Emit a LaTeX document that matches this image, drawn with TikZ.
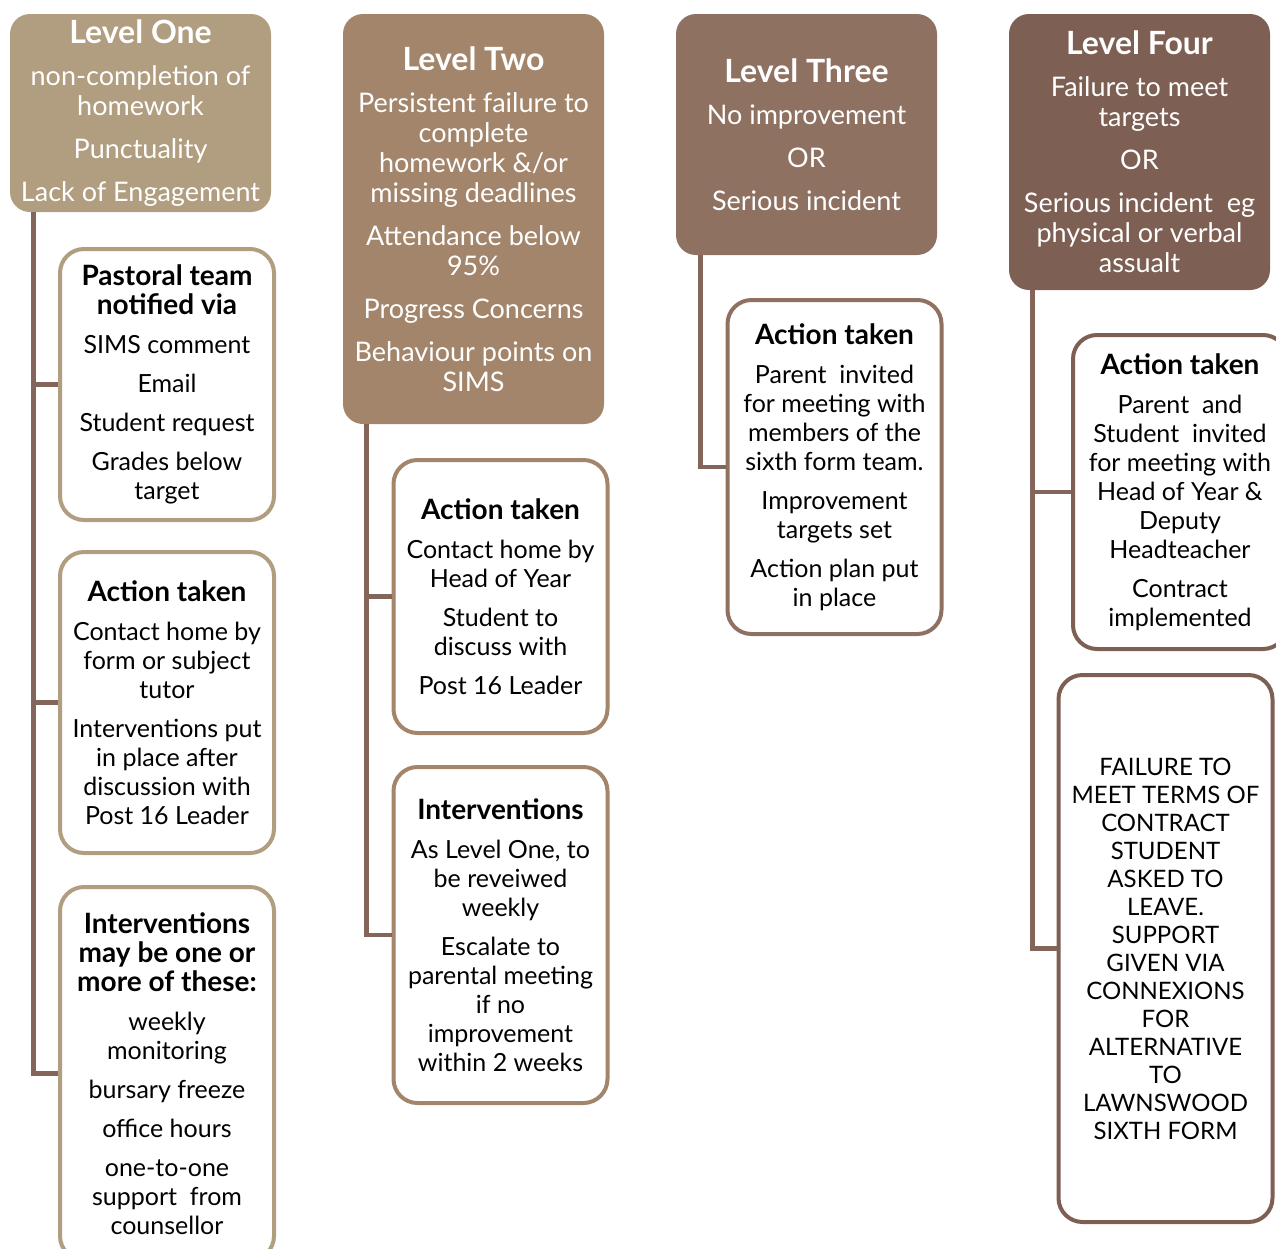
\documentclass[tikz,border=0pt]{standalone}
\usepackage{fontspec}
\setmainfont{Lato}

\definecolor{lvone}{HTML}{B19D7F}
\definecolor{lvtwo}{HTML}{A3856B}
\definecolor{lvthree}{HTML}{8F7161}
\definecolor{lvfour}{HTML}{7D5F53}
\definecolor{linkc}{HTML}{84655A}

\newcommand{\levelname}[1]{{\fontsize{16}{18}\selectfont\bfseries #1}}
\newcommand{\boxtitle}[1]{{\fontsize{14}{14.5}\selectfont\bfseries #1}}

\begin{document}
\begin{tikzpicture}[x=0.5pt,y=-0.5pt,
	head/.style={rounded corners=10pt, text=white, align=center, inner sep=2pt,
		minimum width=130.5pt, font=\fontsize{13.5}{15}\selectfont},
	item/.style={draw, line width=2pt, fill=white, rounded corners=12pt, align=center,
		inner sep=2pt, minimum width=107pt, font=\fontsize{12.5}{14.5}\selectfont},
	link/.style={draw=linkc, line width=2.4pt}]

	\useasboundingbox (0,0) rectangle (1276,1249);

	% the four levels
	\node[head, fill=lvone, minimum height=99pt] (hone) at (140.5,113)
		{\levelname{Level One}\\[6pt] non-completion of\\ homework\\[6.5pt] Punctuality\\[6.5pt] Lack of Engagement};
	\node[head, fill=lvtwo, minimum height=205pt] (htwo) at (473.5,219)
		{\levelname{Level Two}\\[6pt] Persistent failure to\\ complete\\ homework \&/or\\ missing deadlines\\[6.5pt]
		 Attendance below\\ 95\%\\[6.5pt] Progress Concerns\\[6.5pt] Behaviour points on\\ SIMS};
	\node[head, fill=lvthree, minimum height=120.5pt] (hthree) at (806.5,134.5)
		{\levelname{Level Three}\\[6pt] No improvement\\[6.5pt] OR\\[6.5pt] Serious incident};
	\node[head, fill=lvfour, minimum height=138pt] (hfour) at (1139.5,152)
		{\levelname{Level Four}\\[6pt] Failure to meet\\ targets\\[6.5pt] OR\\[6.5pt] Serious incident\ \ eg\\ physical or verbal\\ assualt};

	% level one
	\node[item, draw=lvone, minimum height=135.5pt] (pone) at (167,384.5)
		{\boxtitle{Pastoral team}\\ \boxtitle{notified via}\\[5pt] SIMS comment\\[5pt] Email\\[5pt] Student request\\[5pt] Grades below\\ target};
	\node[item, draw=lvone, minimum height=150.5pt] (aone) at (167,702.5)
		{\boxtitle{Action taken}\\[5pt] Contact home by\\ form or subject\\ tutor\\[5pt] Interventions put\\ in place after\\ discussion with\\ Post 16 Leader};
	\node[item, draw=lvone, minimum height=186.5pt] (ione) at (167,1073.5)
		{\boxtitle{Interventions}\\ \boxtitle{may be one or}\\ \boxtitle{more of these:}\\[5pt] weekly\\ monitoring\\[5pt] bursary freeze\\[5pt]
		 office hours\\[5pt] one-to-one\\ support\ \ from\\ counsellor};

	% level two
	\node[item, draw=lvtwo, minimum height=136.5pt] (atwo) at (500.5,596.5)
		{\boxtitle{Action taken}\\[5pt] Contact home by\\ Head of Year\\[5pt] Student to\\ discuss with\\[5pt] Post 16 Leader};
	\node[item, draw=lvtwo, minimum height=168pt] (itwo) at (500.5,935)
		{\boxtitle{Interventions}\\[5pt] As Level One, to\\ be reveiwed\\ weekly\\[5pt] Escalate to\\ parental meeting\\ if no\\ improvement\\ within 2 weeks};

	% level three
	\node[item, draw=lvthree, minimum height=167pt] (athree) at (834.5,467)
		{\boxtitle{Action taken}\\[5pt] Parent\ \ invited\\ for meeting with\\ members of the\\ sixth form team.\\[5pt]
		 Improvement\\ targets set\\[5pt] Action plan put\\ in place};

	% level four
	\node[item, draw=lvfour, minimum height=157pt] (afour) at (1180,492)
		{\boxtitle{Action taken}\\[5pt] Parent\ \ and\\ Student\ \ invited\\ for meeting with\\ Head of Year \&\\ Deputy\\ Headteacher\\[5pt]
		 Contract\\ implemented};
	\node[item, draw=lvfour, minimum height=273.5pt, font=\fontsize{12}{14}\selectfont] (ffour) at (1165.5,948.5)
		{FAILURE TO\\ MEET TERMS OF\\ CONTRACT\\ STUDENT\\ ASKED TO\\ LEAVE.\\ SUPPORT\\ GIVEN VIA\\ CONNEXIONS\\ FOR\\
		 ALTERNATIVE\\ TO\\ LAWNSWOOD\\ SIXTH FORM};

	% connectors
	\draw[link] ([xshift=12pt]hone.south west) |- (pone.west);
	\draw[link] ([xshift=12pt]hone.south west) |- (aone.west);
	\draw[link] ([xshift=12pt]hone.south west) |- (ione.west);
	\draw[link] ([xshift=12pt]htwo.south west) |- (atwo.west);
	\draw[link] ([xshift=12pt]htwo.south west) |- (itwo.west);
	\draw[link] ([xshift=12.5pt]hthree.south west) |- (athree.west);
	\draw[link] ([xshift=12pt]hfour.south west) |- (afour.west);
	\draw[link] ([xshift=12pt]hfour.south west) |- (ffour.west);
\end{tikzpicture}
\end{document}
